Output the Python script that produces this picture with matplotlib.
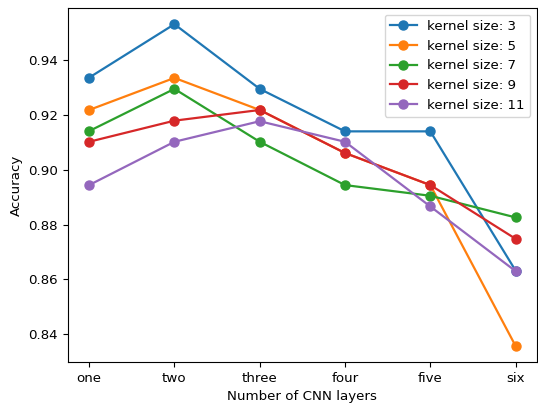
import matplotlib
matplotlib.use('Agg')
import matplotlib.pyplot as plt

layers = ['one', 'two', 'three', 'four', 'five', 'six']
k3 = [0.9336, 0.9531, 0.9295, 0.9140, 0.9140, 0.8632]
k5 = [0.9218, 0.9335, 0.9218, 0.9061, 0.8944, 0.8357]
k7 = [0.9141, 0.9295, 0.9102, 0.8944, 0.8905, 0.8826]
k9 = [0.9102, 0.9179, 0.9218, 0.9061, 0.8944, 0.8748]
k11 = [0.8944, 0.9102, 0.9177, 0.9102, 0.8866, 0.8630]

series = [(k3, 'kernel size: 3'), (k5, 'kernel size: 5'), (k7, 'kernel size: 7'),
          (k9, 'kernel size: 9'), (k11, 'kernel size: 11')]

plt.rcParams['font.size'] = 9.6

fig, ax = plt.subplots(figsize=(5.38, 4.05), dpi=100)
fig.subplots_adjust(left=0.126, right=0.998, top=0.980, bottom=0.106)

for vals, lab in series:
    ax.plot(layers, vals, marker='o', markersize=6.5, linewidth=1.6, label=lab)

ax.set_xlabel('Number of CNN layers')
ax.set_ylabel('Accuracy')
ax.legend(loc='upper right')

fig.savefig('out.png', dpi=100)
